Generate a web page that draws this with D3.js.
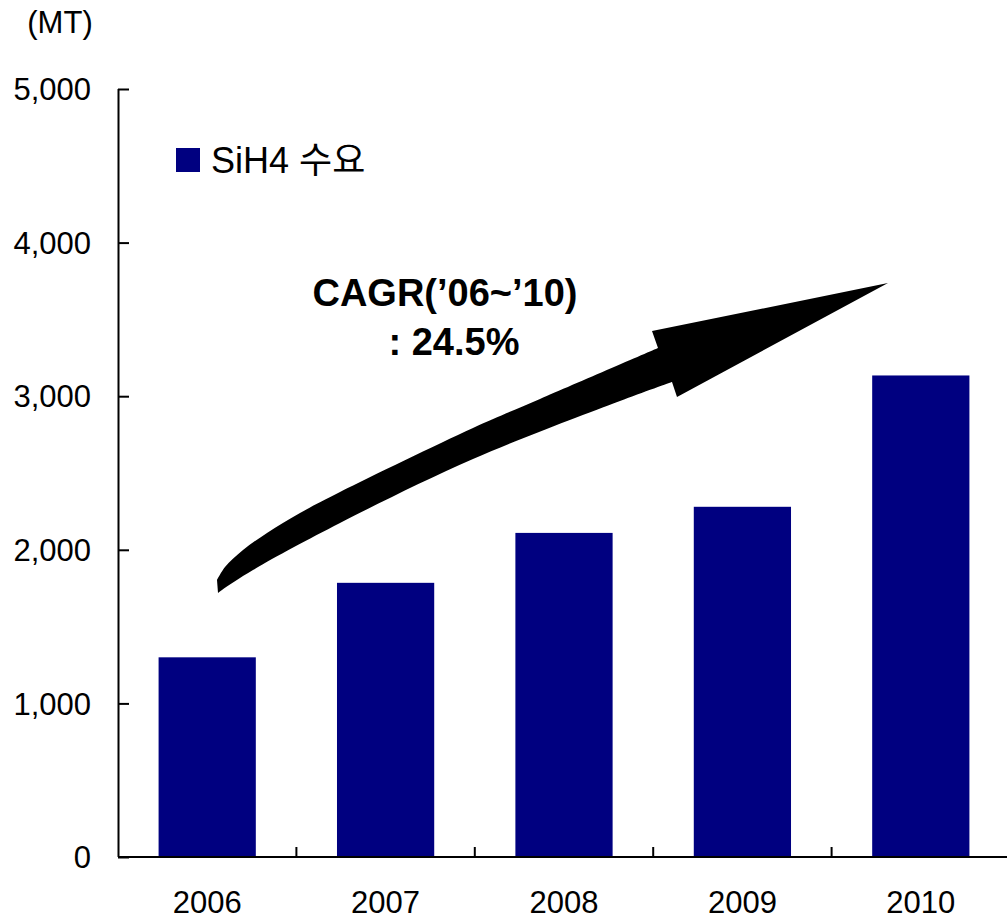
<!DOCTYPE html>
<html>
<head>
<meta charset="utf-8">
<script src="https://cdn.jsdelivr.net/npm/d3@7"></script>
<style>
  html, body { margin: 0; padding: 0; background: #fff; }
  svg { display: block; font-family: "Liberation Sans", Arial, "Noto Sans CJK KR", sans-serif; }
</style>
</head>
<body>
<svg id="chart" width="1007" height="919"></svg>
<script>
// data
const years = ["2006", "2007", "2008", "2009", "2010"];
const demand = [1300, 1785, 2110, 2280, 3135];
const yTicks = [0, 1000, 2000, 3000, 4000, 5000];
const seriesName = "SiH4 수요";
const unitLabel = "(MT)";
const cagrLines = ["CAGR(\u201906~\u201910)", ": 24.5%"];

// arrow outline (annotation, screen coords)
const arrowUpper = [[217,580],[225,567],[243,550],[267,533],[300,513],[340,492],[473,428],[540,399],[658,348]];
const arrowHead = [[652,331],[888,283],[677,397],[672,382]];
const arrowLower = [[672,382],[620,401],[473,459],[340,523],[253,570],[222,590],[218,593]];

const svg = d3.select("#chart");
const x0 = 118, x1 = 1010, yBase = 857, yTop = 89;

const x = d3.scaleBand()
	.domain(years)
	.range([x0, x1])
	.paddingInner(0.455)
	.paddingOuter(0.2275);

const y = d3.scaleLinear()
	.domain([0, 5000])
	.range([yBase, yTop]);

const navy = "#000080";

// bars
svg.append("g")
	.selectAll("rect")
	.data(years)
	.enter().append("rect")
		.attr("x", d => x(d))
		.attr("width", x.bandwidth())
		.attr("y", (d, i) => y(demand[i]))
		.attr("height", (d, i) => yBase - y(demand[i]))
		.attr("fill", navy);

// y axis
const yAxis = svg.append("g")
	.attr("transform", `translate(${x0},0)`)
	.call(d3.axisRight(y).tickValues(yTicks).tickSize(11).tickFormat(""));
yAxis.select(".domain").attr("d", `M0.5,${yTop}V${yBase}`).attr("stroke", "#000").attr("stroke-width", 2);
yAxis.selectAll(".tick line").attr("stroke", "#000").attr("stroke-width", 2);

svg.append("g")
	.selectAll("text")
	.data(yTicks)
	.enter().append("text")
		.attr("x", 91)
		.attr("y", d => y(d))
		.attr("dy", "0.36em")
		.attr("text-anchor", "end")
		.attr("font-size", "31px")
		.attr("fill", "#000")
		.text(d3.format(","));

// x axis
svg.append("line")
	.attr("x1", x0).attr("x2", 1007)
	.attr("y1", yBase).attr("y2", yBase)
	.attr("stroke", "#000").attr("stroke-width", 2);

const step = x.step();
svg.append("g")
	.selectAll("line")
	.data(years.slice(1))
	.enter().append("line")
		.attr("x1", (d, i) => x0 + (i + 1) * step)
		.attr("x2", (d, i) => x0 + (i + 1) * step)
		.attr("y1", yBase).attr("y2", yBase - 10)
		.attr("stroke", "#000").attr("stroke-width", 2);

svg.append("g")
	.selectAll("text")
	.data(years)
	.enter().append("text")
		.attr("x", d => x(d) + x.bandwidth() / 2)
		.attr("y", 913)
		.attr("text-anchor", "middle")
		.attr("font-size", "31px")
		.text(d => d);

// unit label
svg.append("text")
	.attr("x", 60).attr("y", 33)
	.attr("text-anchor", "middle")
	.attr("font-size", "31px")
	.text(unitLabel);

// legend
svg.append("rect")
	.attr("x", 176).attr("y", 148)
	.attr("width", 24).attr("height", 24)
	.attr("fill", navy);
svg.append("text")
	.attr("x", 211).attr("y", 173)
	.attr("font-size", "36px")
	.text(seriesName);

// CAGR arrow
const line = d3.line().curve(d3.curveCatmullRom);
const upperPath = line(arrowUpper);
const lowerPath = line(arrowLower);
const headPath = arrowHead.map(p => "L" + p[0] + "," + p[1]).join("");
svg.append("path")
	.attr("d", upperPath + headPath + "L" + lowerPath.slice(1) + "Z")
	.attr("fill", "#000");

svg.append("g")
	.selectAll("text")
	.data(cagrLines)
	.enter().append("text")
		.attr("x", (d, i) => i === 0 ? 445 : 454)
		.attr("y", (d, i) => i === 0 ? 306 : 355)
		.attr("text-anchor", "middle")
		.attr("font-size", "38px")
		.attr("font-weight", "bold")
		.text(d => d);
</script>
</body>
</html>
